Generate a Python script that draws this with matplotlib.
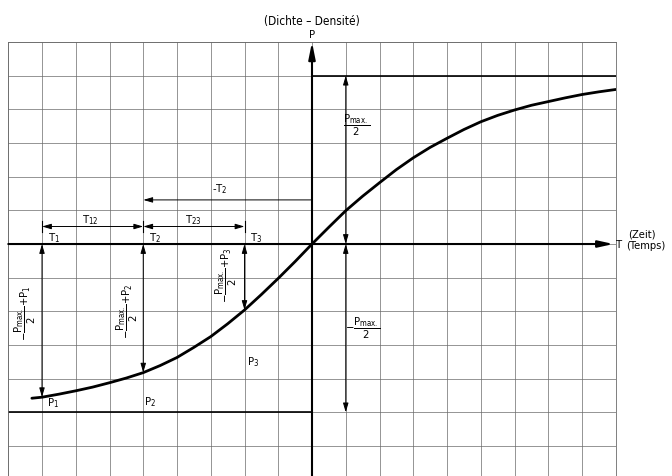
import matplotlib
matplotlib.use("Agg")
import matplotlib.pyplot as plt

# ---- data (grid units) ----
curve_t = [-8.3, -8, -7.5, -7, -6.5, -6, -5.5, -5, -4.5, -4, -3.5, -3, -2.5, -2, -1.5, -1, -0.5,
           0, 0.5, 1, 1.5, 2, 2.5, 3, 3.5, 4, 4.5, 5, 5.5, 6, 6.5, 7, 7.5, 8, 8.5, 9]
curve_p = [-4.58, -4.55, -4.46, -4.36, -4.25, -4.12, -3.98, -3.82, -3.61, -3.37, -3.07, -2.75, -2.37,
           -1.96, -1.50, -1.02, -0.52, 0.0, 0.50, 0.99, 1.42, 1.82, 2.21, 2.56, 2.87, 3.14, 3.40,
           3.63, 3.82, 3.98, 4.12, 4.23, 4.34, 4.44, 4.52, 4.59]
p_max_half = 5
T_points = [-8, -5, -2]
P_points = [-4.55, -3.82, -1.96]
point_idx = ["1", "2", "3"]
interval_labels = ["T$_{12}$", "T$_{23}$"]
title_text = "(Dichte – Densité)"
x_label_main = "T"
x_label_de = "(Zeit)"
x_label_fr = "(Temps)"
y_label = "P"

plt.rcParams["font.family"] = ["DejaVu Sans"]
plt.rcParams["font.stretch"] = "condensed"
plt.rcParams["mathtext.fontset"] = "custom"
plt.rcParams["mathtext.rm"] = "DejaVu Sans:stretch=condensed"
plt.rcParams["mathtext.it"] = "DejaVu Sans:stretch=condensed"
plt.rcParams["mathtext.bf"] = "DejaVu Sans:stretch=condensed"

W, H = 672, 476
fig = plt.figure(figsize=(W / 100, H / 100), dpi=100)
ax = fig.add_axes([8.25 / W, (H - 479.7) / H, 607.5 / W, 437.7 / H])
ax.set_xlim(-9, 9)
ax.set_ylim(-7, 6)
ax.set_xticks(range(-9, 10))
ax.set_yticks(range(-7, 7))
ax.grid(True, color="#6a6a6a", lw=0.5)
ax.tick_params(length=0, labelbottom=False, labelleft=False)
for s in ax.spines.values():
    s.set_color("#6a6a6a")
    s.set_linewidth(0.6)

K = "black"


def arrow(x0, y0, x1, y1, style="-|>", lw=0.7, hl=0.55, hw=0.16):
    ax.annotate("", xy=(x1, y1), xytext=(x0, y0), annotation_clip=False,
                arrowprops=dict(arrowstyle=f"{style},head_length={hl},head_width={hw}",
                                lw=lw, color=K, shrinkA=0, shrinkB=0))


# axes
arrow(-9, 0, 8.93, 0, lw=1.5, hl=0.9, hw=0.2)
arrow(0, -7, 0, 6, lw=1.5, hl=1.0, hw=0.2)

# P max levels
ax.plot([0, 9], [p_max_half, p_max_half], color=K, lw=1.2)
ax.plot([-9, 0], [-p_max_half, -p_max_half], color=K, lw=1.2)

# curve
ax.plot(curve_t, curve_p, color=K, lw=2.0, solid_capstyle="round")

# Pmax/2 dimensions at t = 1
arrow(1, 0, 1, p_max_half, style="<|-|>")
arrow(1, 0, 1, -p_max_half, style="<|-|>")

# vertical dimensions to points
for t, p in zip(T_points, P_points):
    arrow(t, 0, t, p, style="<|-|>")

# horizontal dimensions
y_dim = 0.52
arrow(T_points[0], y_dim, T_points[1], y_dim, style="<|-|>")
arrow(T_points[1], y_dim, T_points[2], y_dim, style="<|-|>")
for t in T_points:
    ax.plot([t, t], [0.36, 0.68], color=K, lw=0.8)
arrow(0, 1.31, T_points[1], 1.31)

fs = 8
# interval labels
ax.text((T_points[0] + T_points[1]) / 2 - 0.08, 0.72, interval_labels[0], fontsize=fs,
        ha="center", va="center")
ax.text((T_points[1] + T_points[2]) / 2 - 0.02, 0.72, interval_labels[1], fontsize=fs,
        ha="center", va="center")
ax.text(-2.72, 1.62, "-T$_2$", fontsize=fs, ha="center", va="center")
for t, i in zip(T_points, point_idx):
    ax.text(t + 0.17, 0.17, f"T$_{i}$", fontsize=fs, ha="left", va="center")

# P labels
p_lab_pos = [(-7.67, -4.73), (-4.8, -4.7), (-1.74, -3.5)]
for (x, y), i in zip(p_lab_pos, point_idx):
    ax.text(x, y, f"P$_{i}$", fontsize=fs, ha="center", va="center")

# fraction labels
frac = r"\dfrac{\mathrm{P_{max.}}}{2}"
ax.text(1.33, 3.53, "$" + frac + "$", fontsize=8, ha="center", va="center")
ax.text(1.52, -2.5, r"$\mathrm{-}" + frac + "$", fontsize=8, ha="center", va="center")
rot_pos = [(-8.48, -2.06), (-5.46, -1.99), (-2.53, -0.94)]
for (x, y), i in zip(rot_pos, point_idx):
    ax.text(x, y, r"$\mathrm{-}" + frac + r"\mathrm{+P_%s}$" % i, fontsize=8,
            ha="center", va="center", rotation=90)

# axis labels / title
ax.text(0, 6.6, title_text, fontsize=8.5, ha="center", va="center", clip_on=False)
ax.text(0, 6.2, y_label, fontsize=8, ha="center", va="center", clip_on=False)
ax.text(9.02, -0.03, x_label_main, fontsize=8, ha="left", va="center", clip_on=False)
ax.text(9.36, 0.27, x_label_de, fontsize=8, ha="left", va="center", clip_on=False)
ax.text(9.30, -0.05, x_label_fr, fontsize=8, ha="left", va="center", clip_on=False)

fig.savefig("out.png", dpi=100)
